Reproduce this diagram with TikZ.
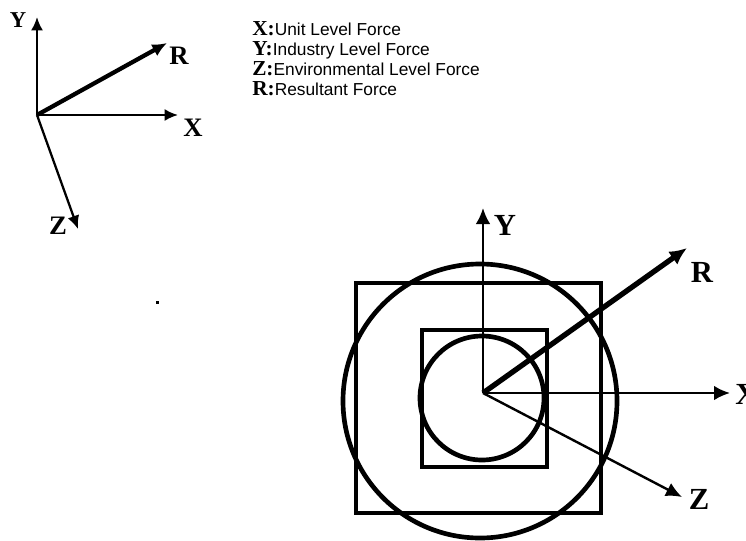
\documentclass[tikz,border=0pt]{standalone}
\usepackage{fontspec}
\setmainfont{Liberation Serif}
\setsansfont{Liberation Sans}
\usetikzlibrary{arrows.meta,positioning}

\begin{document}
\begin{tikzpicture}[x=0.75pt, y=-0.75pt, >={Latex[length=10pt,width=9pt]},
    axis/.style={line width=1.7pt, ->},
    bigaxis/.style={line width=1.8pt, ->, >={Latex[length=12pt,width=11pt]}},
    resultant/.style={line width=3.2pt, ->, >={Latex[length=11pt,width=10pt]}},
    ring/.style={line width=3.5pt},
    frame/.style={line width=2.4pt},
    lbl/.style={inner sep=0pt, font=\fontsize{20}{20}\selectfont\bfseries},
    biglbl/.style={inner sep=0pt, font=\fontsize{23}{23}\selectfont\bfseries},
    key/.style={anchor=base west, inner sep=0pt, font=\fontsize{13}{15}\selectfont\sffamily}]

    \useasboundingbox (0,0) rectangle (746,540);

    % small axes
    \coordinate (o1) at (37,115);
    \coordinate (y1) at (37,17);
    \coordinate (r1) at (167,43);
    \coordinate (x1) at (178,115);
    \coordinate (z1) at (78,229);
    \draw[axis] (o1) -- (y1);
    \draw[axis] (o1) -- (x1);
    \draw[axis] (o1) -- (z1);
    \draw[resultant] (o1) -- (r1);
    \node[lbl, font=\fontsize{17}{17}\selectfont\bfseries] (ly1) at (18,20) {Y};
    \node[lbl] (lr1) at (179,56) {R};
    \node[lbl] (lx1) at (193,128) {X};
    \node[lbl] (lz1) at (58,226) {Z};

    % legend
    \node[key] (kx) at (252,35) {{\rmfamily\bfseries\fontsize{16}{16}\selectfont X:}Unit Level Force};
    \node[key] (ky) at (252,55) {{\rmfamily\bfseries\fontsize{16}{16}\selectfont Y:}Industry Level Force};
    \node[key] (kz) at (252,75) {{\rmfamily\bfseries\fontsize{16}{16}\selectfont Z:}Environmental Level Force};
    \node[key] (kr) at (252,95) {{\rmfamily\bfseries\fontsize{16}{16}\selectfont R:}Resultant Force};

    % stray dot
    \fill (155.5,300.5) rectangle (158.5,303.5);

    % levels
    \draw[frame] (356,283) rectangle (601,513);
    \draw[ring] (480,401) circle [radius=137];
    \draw[frame] (422,330) rectangle (547,467);
    \draw[ring] (482,398) circle [radius=62];

    % big axes
    \coordinate (o2) at (483,393);
    \coordinate (y2) at (483,208);
    \coordinate (x2) at (730,393);
    \coordinate (r2) at (687,248);
    \coordinate (z2) at (682,497);
    \draw[bigaxis] (o2) -- (y2);
    \draw[bigaxis] (o2) -- (x2);
    \draw[bigaxis] (o2) -- (z2);
    \draw[resultant, line width=4pt, >={Latex[length=13pt,width=12pt]}] (o2) -- (r2);
    \node[biglbl] (ly2) at (505,225) {Y};
    \node[biglbl] (lr2) at (702,272) {R};
    \node[biglbl, anchor=west] (lx2) at (735,394) {X};
    \node[biglbl] (lz2) at (699,499) {Z};
\end{tikzpicture}
\end{document}
